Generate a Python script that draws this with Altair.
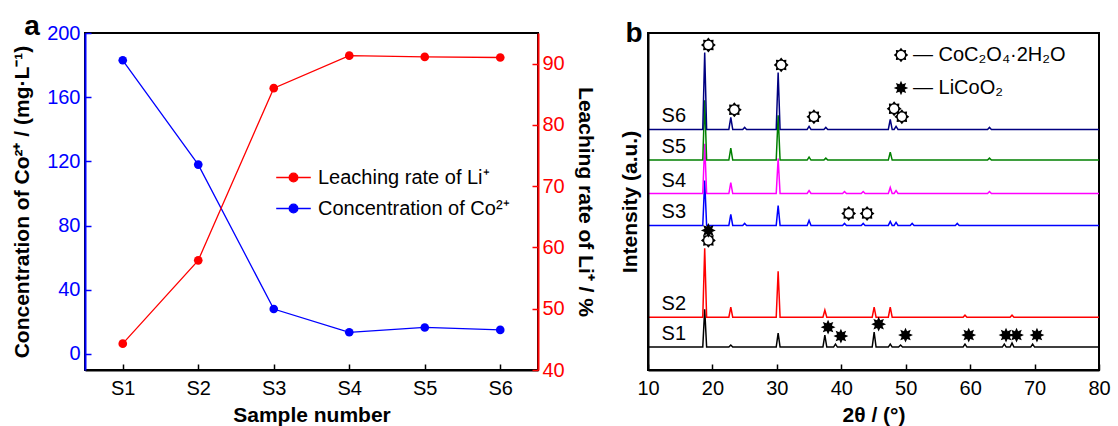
import math
import altair as alt
import pandas as pd

FONT = "Liberation Sans"

# ---------------- Panel a data ----------------
samples = ["S1", "S2", "S3", "S4", "S5", "S6"]
co_conc = [183, 118, 28, 13.5, 16.5, 15]          # mg/L
li_rate = [44.3, 57.9, 86.0, 91.3, 91.1, 91.0]    # %
li_name = "Leaching rate of Li⁺"
co_name = "Concentration of Co²⁺"

# ---------------- Panel b data ----------------
xrd_names = ["S1", "S2", "S3", "S4", "S5", "S6"]
xrd_offsets = [23, 53, 145, 177, 210.5, 241.3]
xrd_colors = ["#000000", "#ff0000", "#0000ff", "#ff00ff", "#008000", "#000080"]

s1_pos = [18.8, 22.85, 30.2, 37.45, 39.1, 45.1, 47.6, 49.2, 59.2, 65.3, 66.5, 69.7]
s1_int = [38, 2, 14, 12, 3, 15, 3, 2, 3, 3, 4, 3]
s2_pos = [18.8, 22.85, 30.2, 37.45, 45.1, 47.6, 59.2, 66.5]
s2_int = [69, 10, 46, 7, 10, 10, 2, 2]
s3_pos = [18.8, 22.85, 25.0, 30.2, 35.0, 40.5, 43.4, 47.6, 48.5, 51.0, 58.0]
s3_int = [45, 11, 2, 20, 5, 2, 2, 4, 3, 2, 2]
s4_pos = [18.8, 22.85, 30.2, 35.0, 40.5, 43.4, 47.6, 48.5, 63.0]
s4_int = [50, 11, 35, 3, 2, 2, 6, 3, 2]
s5_pos = [18.8, 22.85, 30.2, 35.0, 37.6, 47.6, 63.0]
s5_int = [60, 12, 45, 3, 2, 8, 2]
s6_pos = [18.8, 22.85, 25.0, 30.2, 35.0, 37.6, 47.6, 48.5, 63.0]
s6_int = [77, 12, 2, 57, 3, 2, 10, 3, 2]

coc_label = "CoC₂O₄·2H₂O"
lco_label = "LiCoO₂"
coc_x = [19.37, 30.67, 23.40, 35.75, 48.2, 49.4, 41.15, 44.0, 19.37]
coc_y = [326, 306, 261, 254, 262, 254, 157, 157, 130]
lco_x = [19.37, 37.95, 39.94, 45.8, 49.97, 59.78, 65.57, 67.2, 70.37]
lco_y = [140, 43, 34, 46, 35, 35, 35, 35, 35]

HALF_WIDTH = 0.3

# ---------------- tables ----------------
df_co = pd.DataFrame({"sample": samples, "value": co_conc, "quantity": co_name})
df_li = pd.DataFrame({"sample": samples, "value": li_rate, "quantity": li_name})

rows = []
peak_sets = [(s1_pos, s1_int), (s2_pos, s2_int), (s3_pos, s3_int),
             (s4_pos, s4_int), (s5_pos, s5_int), (s6_pos, s6_int)]
for name, off, (pos, inten) in zip(xrd_names, xrd_offsets, peak_sets):
    pts = [(10.0, 0.0), (80.0, 0.0)]
    for p, h in zip(pos, inten):
        pts += [(p - HALF_WIDTH, 0.0), (p, float(h)), (p + HALF_WIDTH, 0.0)]
    pts.sort()
    for tt, h in pts:
        rows.append({"pattern": name, "two_theta": tt, "intensity": off + h})
df_xrd = pd.DataFrame(rows)

df_labels = pd.DataFrame({"pattern": xrd_names, "offset": xrd_offsets})

df_mark = pd.DataFrame(
    {"phase": [coc_label] * len(coc_x) + [lco_label] * len(lco_x),
     "two_theta": coc_x + lco_x,
     "y": coc_y + lco_y}
)


# ---------------- symbol paths ----------------
def star_path(n, r_out, r_in):
    pts = []
    for k in range(2 * n):
        r = r_out if k % 2 == 0 else r_in
        a = math.pi * k / n - math.pi / 2
        pts.append((r * math.cos(a), r * math.sin(a)))
    return "M" + " L".join(f"{x:.3f},{y:.3f}" for x, y in pts) + " Z"


def ring(r):
    # counter-clockwise circle (hole)
    return (f"M{r:.3f},0 A{r:.3f},{r:.3f} 0 1,0 {-r:.3f},0 "
            f"A{r:.3f},{r:.3f} 0 1,0 {r:.3f},0 Z")


SUN = star_path(8, 1.0, 0.72) + " " + ring(0.56)
STAR = star_path(8, 1.0, 0.56)
LEG_LINE = "M-1.6,0 L1.6,0 M-0.4,0 A0.4,0.4 0 1,1 0.4,0 A0.4,0.4 0 1,1 -0.4,0 Z"

TICK_IN = alt.ExprRef(expr="-6")

# ---------------- Panel a ----------------
x_a = alt.X(
    "sample:N", sort=samples,
    scale=alt.Scale(type="point", padding=0.5),
    axis=alt.Axis(title="Sample number", labelAngle=0, labelFontSize=20,
                  labelColor="black", titleFontSize=21, titleFontWeight="bold",
                  domainColor="black", domainWidth=2, tickColor="black",
                  tickWidth=1.5, tickSize=TICK_IN, labelPadding=14,
                  titlePadding=6, zindex=1),
)

color_a = alt.Scale(domain=[li_name, co_name], range=["#ff0000", "#0000ff"])
legend_a = alt.Legend(orient="none", legendX=197, legendY=133, title=None,
                      symbolType=LEG_LINE, symbolSize=467, symbolStrokeWidth=1.3,
                      labelFontSize=20, labelFont=FONT, labelColor="black",
                      labelOffset=13, rowPadding=9, padding=0, labelLimit=500)

co_line = alt.Chart(df_co).mark_line(
    strokeWidth=1.3, point=alt.OverlayMarkDef(filled=True, size=75, opacity=1)
).encode(
    x=x_a,
    y=alt.Y("value:Q", scale=alt.Scale(domain=[-10, 200], nice=False, zero=False),
            axis=alt.Axis(orient="left", values=[0, 40, 80, 120, 160, 200],
                          title="Concentration of Co²⁺ / (mg·L⁻¹)",
                          labelColor="#0000ff", labelFontSize=20,
                          titleFontSize=21, titleFontWeight="bold",
                          titleColor="black", domainColor="#0000ff",
                          domainWidth=2, tickColor="#0000ff", tickWidth=1.5,
                          tickSize=TICK_IN, labelPadding=11, titlePadding=14,
                          zindex=1)),
    color=alt.Color("quantity:N", scale=color_a, legend=legend_a),
)

li_line = alt.Chart(df_li).mark_line(
    strokeWidth=1.3, point=alt.OverlayMarkDef(filled=True, size=75, opacity=1)
).encode(
    x=x_a,
    y=alt.Y("value:Q", scale=alt.Scale(domain=[40, 95], nice=False, zero=False),
            axis=alt.Axis(orient="right", values=[40, 50, 60, 70, 80, 90],
                          title="Leaching rate of Li⁺ / %",
                          labelColor="#ff0000", labelFontSize=20,
                          titleFontSize=21, titleFontWeight="bold",
                          titleColor="black", domainColor="#ff0000",
                          domainWidth=2, tickColor="#ff0000", tickWidth=1.5,
                          tickSize=TICK_IN, labelPadding=10, titlePadding=10,
                          zindex=1)),
    color=alt.Color("quantity:N", scale=color_a, legend=legend_a),
)

letter_a = alt.Chart(pd.DataFrame({"t": ["a"]})).mark_text(
    fontSize=28, fontWeight="bold", font=FONT, align="center",
    baseline="alphabetic", color="black"
).encode(text="t:N", x=alt.value(-53), y=alt.value(2))

panel_a = alt.layer(co_line, li_line, letter_a).resolve_scale(
    y="independent").properties(width=453, height=337)

# ---------------- Panel b ----------------
x_b = alt.X(
    "two_theta:Q",
    scale=alt.Scale(domain=[10, 80], nice=False, zero=False),
    axis=alt.Axis(title="2θ / (°)", values=[10, 20, 30, 40, 50, 60, 70, 80],
                  labelFontSize=20, titleFontSize=21, titleFontWeight="bold",
                  domainColor="black", domainWidth=2, tickColor="black",
                  tickWidth=1.5, tickSize=TICK_IN, labelPadding=14,
                  titlePadding=6, labelFlush=False, zindex=1),
)
y_scale_b = alt.Scale(domain=[0, 338], nice=False, zero=False)
y_axis_b = alt.Axis(title="Intensity (a.u.)", labels=False, ticks=False,
                    titleFontSize=21, titleFontWeight="bold", domainColor="black",
                    domainWidth=2, titlePadding=8, zindex=1)

xrd_lines = alt.Chart(df_xrd).mark_line(strokeWidth=1.5).encode(
    x=x_b,
    y=alt.Y("intensity:Q", scale=y_scale_b, axis=y_axis_b),
    color=alt.Color("pattern:N", scale=alt.Scale(domain=xrd_names, range=xrd_colors),
                    legend=None),
    order=alt.Order("two_theta:Q"),
)

series_labels = alt.Chart(df_labels).mark_text(
    fontSize=20, font=FONT, align="center", baseline="alphabetic",
    color="black", dy=-7
).encode(
    x=alt.datum(14.0),
    y=alt.Y("offset:Q", scale=y_scale_b),
    text="pattern:N",
)

legend_b = alt.Legend(orient="none", legendX=243, legendY=12, title=None,
                      labelFontSize=20, labelFont=FONT, labelColor="black",
                      symbolSize=210, symbolFillColor="black",
                      labelOffset=2, rowPadding=11,
                      padding=0, labelLimit=500,
                      labelExpr="'— ' + datum.label")
phase_dom = [coc_label, lco_label]
markers = alt.Chart(df_mark).mark_point(
    size=220, filled=True, color="black", opacity=1
).encode(
    x=alt.X("two_theta:Q", scale=alt.Scale(domain=[10, 80], nice=False, zero=False)),
    y=alt.Y("y:Q", scale=y_scale_b),
    shape=alt.Shape("phase:N", scale=alt.Scale(domain=phase_dom, range=[SUN, STAR]),
                    legend=legend_b),
)

letter_b = alt.Chart(pd.DataFrame({"t": ["b"]})).mark_text(
    fontSize=28, fontWeight="bold", font=FONT, align="center",
    baseline="alphabetic", color="black"
).encode(text="t:N", x=alt.value(-14), y=alt.value(9))

panel_b = alt.layer(xrd_lines, series_labels, markers, letter_b).properties(
    width=451, height=337)

chart = alt.hconcat(panel_a, panel_b, spacing=21).resolve_scale(
    color="independent", shape="independent"
).resolve_legend(
    color="independent", shape="independent"
).configure(
    font=FONT, padding={"left": 10, "top": 12, "right": 5, "bottom": 0}
).configure_view(stroke="black", strokeWidth=2).configure_axis(
    grid=False, labelFont=FONT, titleFont=FONT, titleColor="black"
)

chart.save("out.html", embed_options={"renderer": "svg", "actions": False})
